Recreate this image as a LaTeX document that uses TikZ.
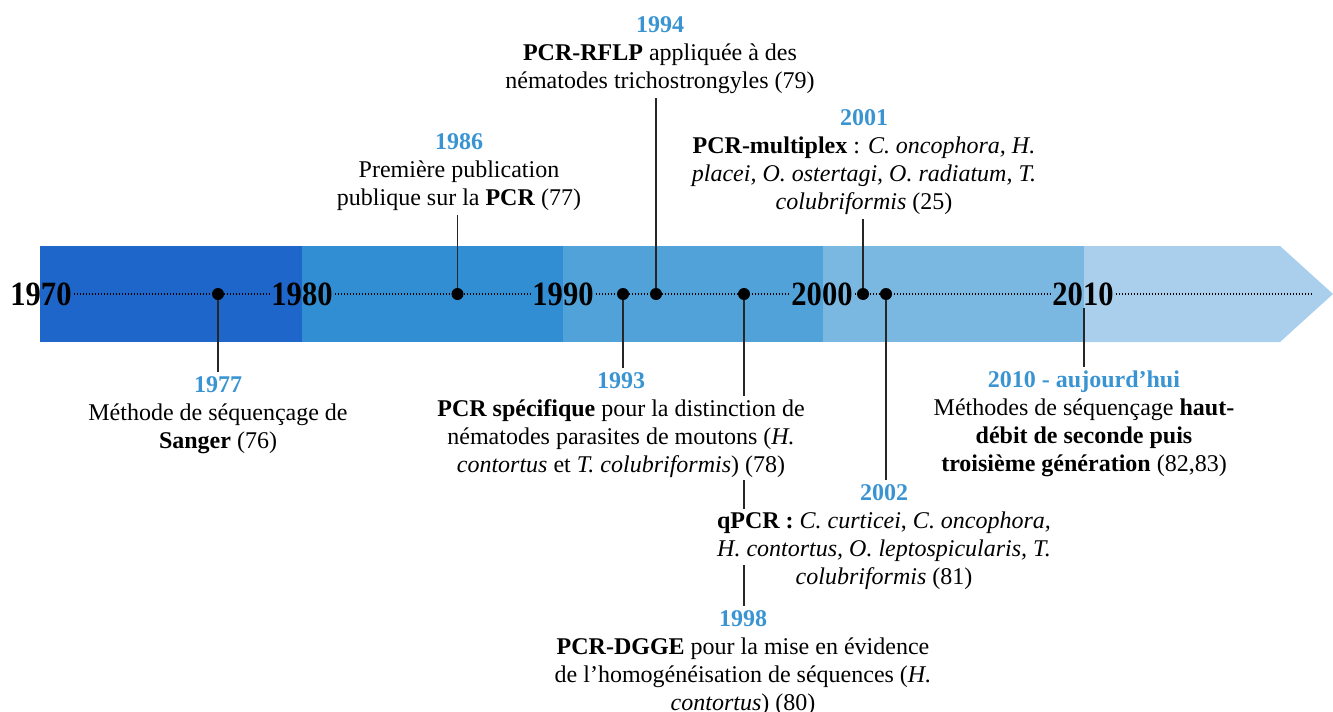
\documentclass[tikz,border=0pt]{standalone}
\usepackage{fontspec}
\setmainfont{Liberation Serif}[BoldFont={Liberation Serif Bold},ItalicFont={Liberation Serif Italic},BoldItalicFont={Liberation Serif Bold Italic}]
\usepackage{tikz}
\usetikzlibrary{calc}
\usetikzlibrary{positioning}
\definecolor{segA}{RGB}{30,102,201}
\definecolor{segB}{RGB}{49,142,210}
\definecolor{segC}{RGB}{80,162,216}
\definecolor{segD}{RGB}{122,183,225}
\definecolor{segE}{RGB}{169,207,236}
\definecolor{yearblue}{RGB}{58,148,210}
\newcommand{\yr}[1]{\textcolor{yearblue}{\textbf{#1}}}
\newcommand{\wl}[1]{{\setlength{\fboxsep}{0pt}\colorbox{white}{\strut #1}}}
\newcommand{\squeeze}[1]{\scalebox{0.9}[1]{#1}}
\tikzset{event/.style={circle,fill=black,inner sep=0pt,minimum size=12pt}}
\tikzset{note/.style={align=center,font=\fontsize{24}{28}\selectfont,inner xsep=2pt,inner ysep=4pt}}
\tikzset{decade/.style={font=\fontsize{34}{34}\selectfont\bfseries,inner sep=2pt}}
\tikzset{stem/.style={line width=1.5pt,draw=black!85}}
\tikzset{axis/.style={line width=2.2pt,dash pattern=on 1.5pt off 1.5pt}}
\pgfdeclarelayer{front}
\pgfsetlayers{main,front}

\begin{document}
\begin{tikzpicture}[x=1pt,y=-1pt]
\useasboundingbox (0,0) rectangle (1333,712);
  % bande des decennies
  \fill[segA] (40,246) rectangle (302,342);
  \fill[segB] (302,246) rectangle (563,342);
  \fill[segC] (563,246) rectangle (823,342);
  \fill[segD] (823,246) rectangle (1084,342);
  \fill[segE] (1084,246) -- (1280,246) -- (1333,294) -- (1280,342) -- (1084,342) -- cycle;

  \node[decade] (d1970) at (41,294) {\squeeze{1970}};
  \node[decade] (d1980) at (302,294) {\squeeze{1980}};
  \node[decade] (d1990) at (563,294) {\squeeze{1990}};
  \node[decade] (d2000) at (822,294) {\squeeze{2000}};
  \node[decade] (d2010) at (1083,294) {\squeeze{2010}};
  \coordinate (axisend) at (1311,294);
  \foreach \a/\b in {d1970/d1980,d1980/d1990,d1990/d2000,d2000/d2010,d2010/axisend}
    \draw[axis] (\a) -- (\b);

\begin{pgfonlayer}{front}
  \node[note,anchor=north] (n1977) at (218,372)
    {\yr{1977}\\Méthode de séquençage de\\\textbf{Sanger} (76)};
  \node[note,anchor=south] (n1986) at (459,215)
    {\yr{1986}\\Première publication\\publique sur la \textbf{PCR} (77)};
  \node[note,anchor=south] (n1994) at (660,98)
    {\yr{1994}\\\textbf{PCR-RFLP} appliquée à des\\nématodes trichostrongyles (79)};
  \node[note,anchor=south] (n2001) at (864,219)
    {\yr{2001}\\\textbf{PCR-multiplex} : \textit{C. oncophora, H.}\\\textit{placei, O. ostertagi, O. radiatum, T.}\\\textit{colubriformis} (25)};
  \node[note,anchor=north] (n1993) at (621,368)
    {\yr{1993}\\\wl{\textbf{PCR spécifique} pour la distinction de}\\\wl{nématodes parasites de moutons (\textit{H.}}\\\wl{\textit{contortus} et \textit{T. colubriformis}) (78)}};
  \node[note,anchor=north] (n2002) at (884,480)
    {\yr{2002}\\\wl{\textbf{qPCR :} \textit{C. curticei}, \textit{C. oncophora,}}\\\wl{\textit{H. contortus, O. leptospicularis, T.}}\\\wl{\textit{colubriformis} (81)}};
  \node[note,anchor=north] (n1998) at (743,606)
    {\yr{1998}\\\textbf{PCR-DGGE} pour la mise en évidence\\de l’homogénéisation de séquences (\textit{H.}\\\textit{contortus}) (80)};
  \node[note,anchor=north] (n2010) at (1084,367)
    {\yr{2010 - aujourd’hui}\\Méthodes de séquençage \textbf{haut-}\\\textbf{débit de seconde puis}\\\textbf{troisième génération} (82,83)};
\end{pgfonlayer}

  \node[event] (e1977) at (218,294) {};
  \node[event] (e1986) at (457.5,294) {};
  \node[event] (e1993) at (623,294) {};
  \node[event] (e1994) at (656,294) {};
  \node[event] (e1998) at (744,294) {};
  \node[event] (e2001) at (863,294) {};
  \node[event] (e2002) at (886,294) {};

  \draw[stem] (e1977) -- (e1977 |- n1977.north);
  \draw[stem] (e1986) -- (e1986 |- n1986.south);
  \draw[stem] (e1993) -- (e1993 |- n1993.north);
  \draw[stem] (e1994) -- (e1994 |- n1994.south);
  \draw[stem] (e1998) -- (e1998 |- n1998.north);
  \draw[stem] (e2001) -- (e2001 |- n2001.south);
  \draw[stem] (e2002) -- (e2002 |- n2002.north);
  \draw[stem] (d2010.south -| n2010.north) -- (n2010.north);
\end{tikzpicture}
\end{document}
